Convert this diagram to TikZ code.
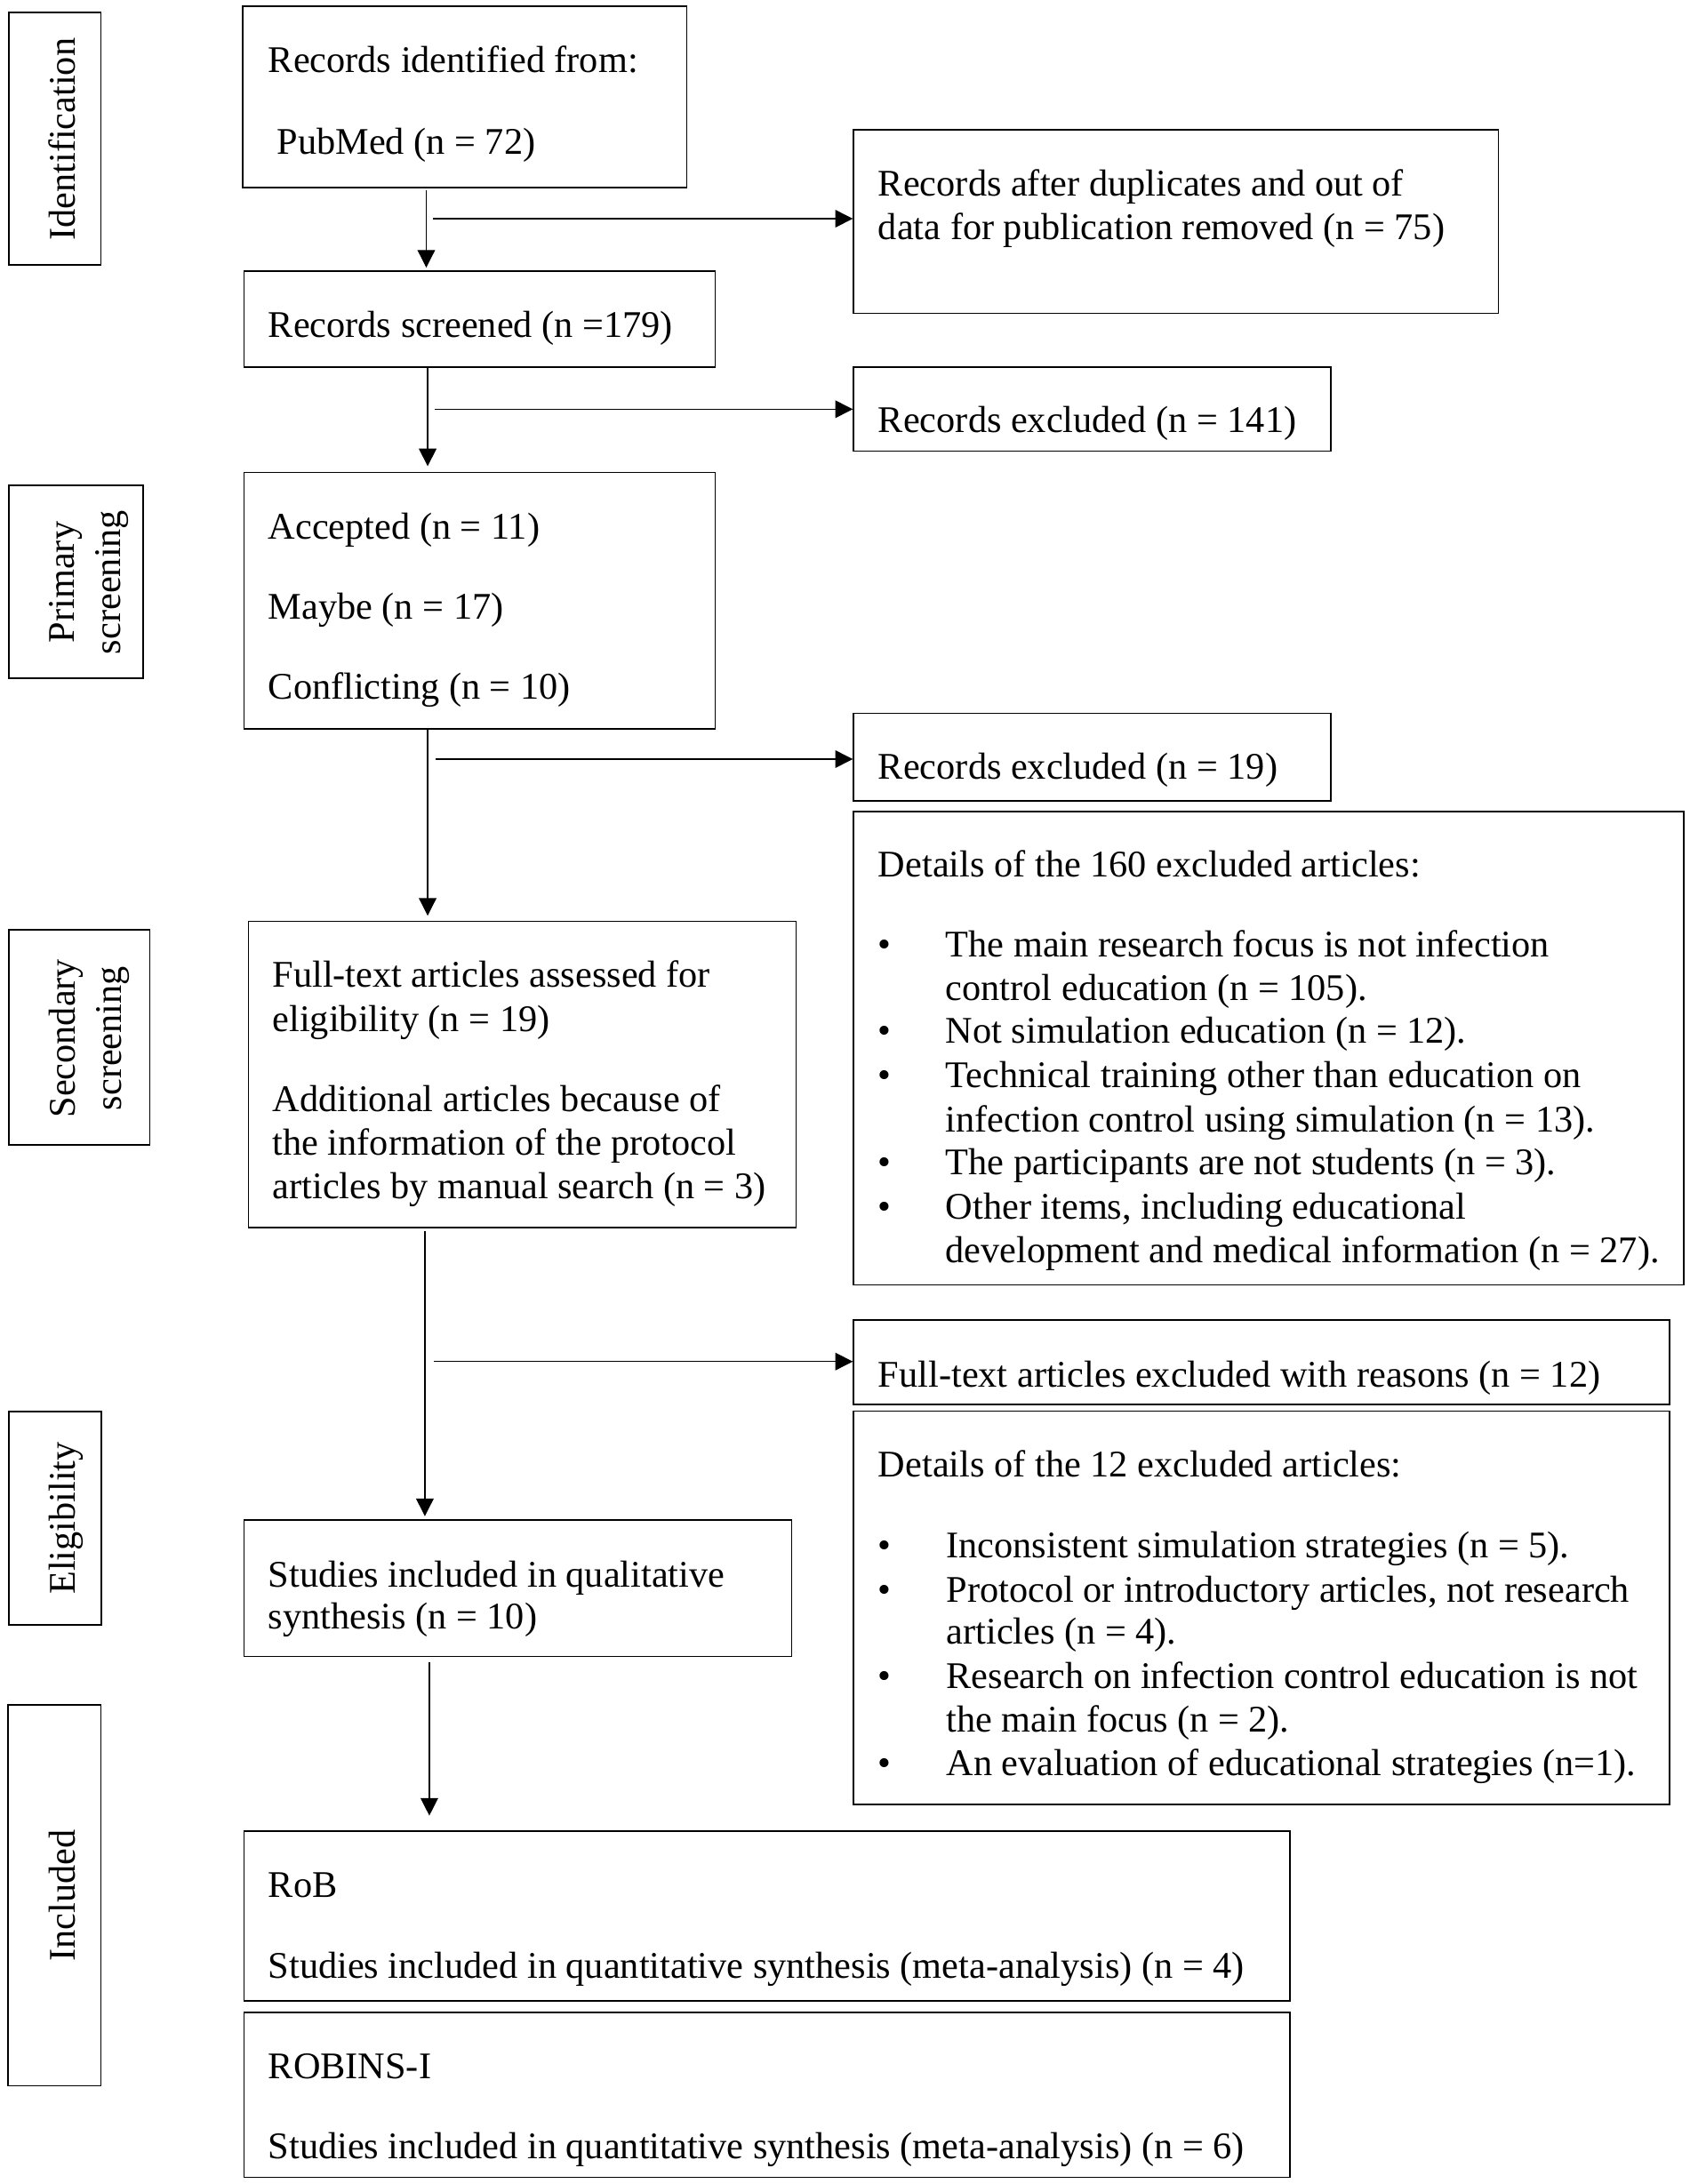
\documentclass[tikz,border=0pt]{standalone}
\usepackage{fontspec}
\setmainfont{Liberation Serif}
\usetikzlibrary{arrows.meta,fit}
\tikzset{
  box/.style={draw, line width=0.5pt, inner sep=0pt},
  txt/.style={anchor=base west, inner sep=0pt, font=\fontsize{13.5}{15.5}\selectfont},
  lab/.style={anchor=base, inner sep=0pt, rotate=90, font=\fontsize{13.5}{15.5}\selectfont},
  arr/.style={line width=0.4pt, -{Triangle[length=6.3pt,width=6.3pt]}}
}
\newcommand\mybox[5]{\node[box, fit={(#2,#3) (#4,#5)}] (#1) {};}
\newcommand\tline[4]{\node[txt] (#1) at (#2,#3) {#4};}
\newcommand\bul[2]{\node[txt] (#1) at (629.5,#2) {\textbullet};}
\begin{document}
\begin{tikzpicture}[x=0.5pt,y=-0.5pt]
\useasboundingbox (0,0) rectangle (1213,1568);
% stage labels
\mybox{L1}{6.4}{8.9}{72.5}{190}
\node[lab] (l1) at (54.2,100) {Identification};
\mybox{L2}{6.4}{348.5}{102.8}{487}
\node[lab] (l2a) at (53.2,418) {Primary};
\node[lab] (l2b) at (86.2,418) {screening};
\mybox{L3}{6.4}{667.5}{107.4}{822}
\node[lab] (l3a) at (54.2,745.5) {Secondary};
\node[lab] (l3b) at (87,745.5) {screening};
\mybox{L4}{6.3}{1013.5}{72.7}{1166.5}
\node[lab] (l4) at (54.2,1090) {Eligibility};
\mybox{L5}{5.7}{1224}{72.3}{1497.4}
\node[lab] (l5) at (54.2,1361) {Included};
% boxes
\mybox{A}{174.4}{4.4}{493}{134.6}
\mybox{B}{612.7}{93.3}{1075.5}{225}
\mybox{C}{175.2}{194.6}{513.5}{263.7}
\mybox{D}{612.7}{263.5}{955.5}{324}
\mybox{E}{175.2}{339.2}{513.5}{523.4}
\mybox{F}{612.7}{512}{955.5}{575}
\mybox{G}{612.7}{582.5}{1208.6}{922.6}
\mybox{H}{178.3}{661.5}{571.6}{881.3}
\mybox{I}{612.7}{947.8}{1198.5}{1008.4}
\mybox{J}{612.7}{1013}{1198.5}{1295.5}
\mybox{K}{175.2}{1091.2}{568.4}{1189.2}
\mybox{L}{175.2}{1314.8}{926}{1436.4}
\mybox{M}{175.2}{1444.7}{926}{1563.3}
% texts
\tline{a1}{192.2}{52}{Records identified from:}
\tline{a2}{198.5}{111}{PubMed (n = 72)}
\tline{b1}{630.1}{140.4}{Records after duplicates and out of}
\tline{b2}{630.1}{172.2}{data for publication removed (n = 75)}
\tline{c1}{192.2}{242.5}{Records screened (n =179)}
\tline{d1}{630.1}{310.6}{Records excluded (n = 141)}
\tline{e1}{192.2}{386.8}{Accepted (n = 11)}
\tline{e2}{192.2}{444.7}{Maybe (n = 17)}
\tline{e3}{192.2}{502.2}{Conflicting (n = 10)}
\tline{f1}{630.1}{559.5}{Records excluded (n = 19)}
\tline{g0}{630.1}{629.6}{Details of the 160 excluded articles:}
\bul{gb1}{687.1}
\bul{gb2}{749.2}
\bul{gb3}{781.1}
\bul{gb4}{843.2}
\bul{gb5}{875.1}
\tline{g1}{678.5}{687.1}{The main research focus is not infection}
\tline{g2}{678.5}{718.4}{control education (n = 105).}
\tline{g3}{678.5}{749.2}{Not simulation education (n = 12).}
\tline{g4}{678.5}{781.1}{Technical training other than education on}
\tline{g5}{678.5}{812.4}{infection control using simulation (n = 13).}
\tline{g6}{678.5}{843.2}{The participants are not students (n = 3).}
\tline{g7}{678.5}{875.1}{Other items, including educational}
\tline{g8}{678.5}{906.4}{development and medical information (n = 27).}
\tline{h1}{195.3}{708.4}{Full-text articles assessed for}
\tline{h2}{195.3}{740.3}{eligibility (n = 19)}
\tline{h3}{195.3}{798.2}{Additional articles because of}
\tline{h4}{195.3}{829.3}{the information of the protocol}
\tline{h5}{195.3}{860.4}{articles by manual search (n = 3)}
\tline{i1}{630.1}{995.8}{Full-text articles excluded with reasons (n = 12)}
\tline{j0}{630.1}{1060.6}{Details of the 12 excluded articles:}
\bul{jb1}{1118.7}
\bul{jb2}{1150}
\bul{jb3}{1212}
\bul{jb4}{1274.5}
\tline{j1}{679}{1118.7}{Inconsistent simulation strategies (n = 5).}
\tline{j2}{679}{1150}{Protocol or introductory articles, not research}
\tline{j3}{679}{1180.6}{articles (n = 4).}
\tline{j4}{679}{1212}{Research on infection control education is not}
\tline{j5}{679}{1243.4}{the main focus (n = 2).}
\tline{j6}{679}{1274.5}{An evaluation of educational strategies (n=1).}
\tline{k1}{192.2}{1139.3}{Studies included in qualitative}
\tline{k2}{192.2}{1169.4}{synthesis (n = 10)}
\tline{m1}{192.2}{1362.1}{RoB}
\tline{m2}{192.2}{1420.2}{Studies included in quantitative synthesis (meta-analysis) (n = 4)}
\tline{n1}{192.2}{1492.4}{ROBINS-I}
\tline{n2}{192.2}{1550}{Studies included in quantitative synthesis (meta-analysis) (n = 6)}
% connector reference coordinates
\coordinate (v1) at (306,0);
\coordinate (v2) at (307,0);
\coordinate (v3) at (307,0);
\coordinate (v4) at (305,0);
\coordinate (v5) at (308.2,0);
\coordinate (q1) at (311,157);
\coordinate (q2) at (312,293.8);
\coordinate (q3) at (312.5,545);
\coordinate (q4) at (311.4,977.5);
% vertical arrows
\draw[arr, shorten >=1pt, shorten <=0.7pt] (A.south -| v1) -- (C.north -| v1);
\draw[arr, shorten >=2pt] (C.south -| v2) -- (E.north -| v2);
\draw[arr, shorten >=1.8pt] (E.south -| v3) -- (H.north -| v3);
\draw[arr, shorten >=1.1pt, shorten <=1pt] (H.south -| v4) -- (K.north -| v4);
\draw[arr, shorten >=5.4pt, shorten <=1.9pt] (K.south -| v5) -- (L.north -| v5);
% horizontal arrows
\draw[arr] (q1) -- (q1 -| B.west);
\draw[arr] (q2) -- (q2 -| D.west);
\draw[arr] (q3) -- (q3 -| F.west);
\draw[arr] (q4) -- (q4 -| I.west);
\end{tikzpicture}
\end{document}
